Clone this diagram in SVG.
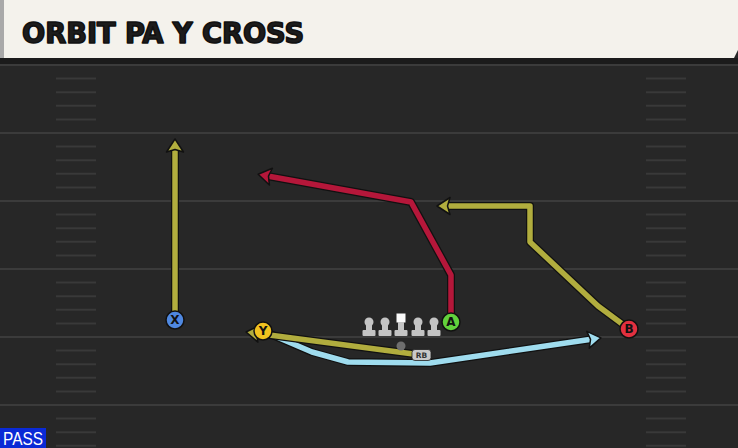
<svg xmlns="http://www.w3.org/2000/svg" width="738" height="448" viewBox="0 0 738 448">
<style>
.yard{stroke:#3b3b3b;stroke-width:2}
.tick{stroke:#393939;stroke-width:2}
.out{fill:none;stroke:#111;stroke-width:8;stroke-linejoin:round;stroke-linecap:round}
.rt{fill:none;stroke-width:5.5;stroke-linejoin:round;stroke-linecap:round}
.yel{stroke:#b1ad3e}
.red{stroke:#b5173a}
.blu{stroke:#9fdcee}
.pl{stroke:#111;stroke-width:1.5}
.lbl{font-family:"DejaVu Sans",sans-serif;font-weight:bold;font-size:12px;fill:#111;text-anchor:middle}
.ol{fill:#c4c4c4}
</style>
<defs>
<marker id="ay" markerUnits="userSpaceOnUse" markerWidth="26" markerHeight="26" viewBox="-13 -13 26 26" refX="0" refY="0" orient="auto" overflow="visible">
<path d="M-5,-8.5 L8,0 L-5,8.5 L-2.5,0 Z" fill="#b1ad3e" stroke="#111" stroke-width="1.5" stroke-linejoin="round"/>
</marker>
<marker id="ar" markerUnits="userSpaceOnUse" markerWidth="26" markerHeight="26" viewBox="-13 -13 26 26" refX="0" refY="0" orient="auto" overflow="visible">
<path d="M-5,-8.5 L8,0 L-5,8.5 L-2.5,0 Z" fill="#b5173a" stroke="#111" stroke-width="1.5" stroke-linejoin="round"/>
</marker>
<marker id="ab" markerUnits="userSpaceOnUse" markerWidth="26" markerHeight="26" viewBox="-13 -13 26 26" refX="0" refY="0" orient="auto" overflow="visible">
<path d="M-5,-8.5 L8,0 L-5,8.5 L-2.5,0 Z" fill="#9fdcee" stroke="#111" stroke-width="1.5" stroke-linejoin="round"/>
</marker>
</defs>

<rect x="0" y="0" width="738" height="448" fill="#272727"/>
<rect x="0" y="58" width="738" height="6" fill="#1b1b1b"/>

<g id="field">
<line class="yard" x1="0" y1="65" x2="738" y2="65"/>
<line class="yard" x1="0" y1="133" x2="738" y2="133"/>
<line class="yard" x1="0" y1="201" x2="738" y2="201"/>
<line class="yard" x1="0" y1="269" x2="738" y2="269"/>
<line class="yard" x1="0" y1="337" x2="738" y2="337"/>
<line class="yard" x1="0" y1="405" x2="738" y2="405"/>
<g id="ticks-left">
<line class="tick" x1="56" y1="78.6" x2="96" y2="78.6"/><line class="tick" x1="56" y1="92.2" x2="96" y2="92.2"/><line class="tick" x1="56" y1="105.8" x2="96" y2="105.8"/><line class="tick" x1="56" y1="119.4" x2="96" y2="119.4"/>
<line class="tick" x1="56" y1="146.6" x2="96" y2="146.6"/><line class="tick" x1="56" y1="160.2" x2="96" y2="160.2"/><line class="tick" x1="56" y1="173.8" x2="96" y2="173.8"/><line class="tick" x1="56" y1="187.4" x2="96" y2="187.4"/>
<line class="tick" x1="56" y1="214.6" x2="96" y2="214.6"/><line class="tick" x1="56" y1="228.2" x2="96" y2="228.2"/><line class="tick" x1="56" y1="241.8" x2="96" y2="241.8"/><line class="tick" x1="56" y1="255.4" x2="96" y2="255.4"/>
<line class="tick" x1="56" y1="282.6" x2="96" y2="282.6"/><line class="tick" x1="56" y1="296.2" x2="96" y2="296.2"/><line class="tick" x1="56" y1="309.8" x2="96" y2="309.8"/><line class="tick" x1="56" y1="323.4" x2="96" y2="323.4"/>
<line class="tick" x1="56" y1="350.6" x2="96" y2="350.6"/><line class="tick" x1="56" y1="364.2" x2="96" y2="364.2"/><line class="tick" x1="56" y1="377.8" x2="96" y2="377.8"/><line class="tick" x1="56" y1="391.4" x2="96" y2="391.4"/>
<line class="tick" x1="56" y1="418.6" x2="96" y2="418.6"/><line class="tick" x1="56" y1="432.2" x2="96" y2="432.2"/><line class="tick" x1="56" y1="445.8" x2="96" y2="445.8"/>
</g>
<g id="ticks-right">
<line class="tick" x1="646" y1="78.6" x2="686" y2="78.6"/><line class="tick" x1="646" y1="92.2" x2="686" y2="92.2"/><line class="tick" x1="646" y1="105.8" x2="686" y2="105.8"/><line class="tick" x1="646" y1="119.4" x2="686" y2="119.4"/>
<line class="tick" x1="646" y1="146.6" x2="686" y2="146.6"/><line class="tick" x1="646" y1="160.2" x2="686" y2="160.2"/><line class="tick" x1="646" y1="173.8" x2="686" y2="173.8"/><line class="tick" x1="646" y1="187.4" x2="686" y2="187.4"/>
<line class="tick" x1="646" y1="214.6" x2="686" y2="214.6"/><line class="tick" x1="646" y1="228.2" x2="686" y2="228.2"/><line class="tick" x1="646" y1="241.8" x2="686" y2="241.8"/><line class="tick" x1="646" y1="255.4" x2="686" y2="255.4"/>
<line class="tick" x1="646" y1="282.6" x2="686" y2="282.6"/><line class="tick" x1="646" y1="296.2" x2="686" y2="296.2"/><line class="tick" x1="646" y1="309.8" x2="686" y2="309.8"/><line class="tick" x1="646" y1="323.4" x2="686" y2="323.4"/>
<line class="tick" x1="646" y1="350.6" x2="686" y2="350.6"/><line class="tick" x1="646" y1="364.2" x2="686" y2="364.2"/><line class="tick" x1="646" y1="377.8" x2="686" y2="377.8"/><line class="tick" x1="646" y1="391.4" x2="686" y2="391.4"/>
<line class="tick" x1="646" y1="418.6" x2="686" y2="418.6"/><line class="tick" x1="646" y1="432.2" x2="686" y2="432.2"/><line class="tick" x1="646" y1="445.8" x2="686" y2="445.8"/>
</g>
</g>

<g id="header">
<polygon points="0,0 738,0 738,50 734,58 0,58" fill="#f4f2ec"/>
<rect x="0" y="0" width="4" height="58" fill="#a9a9a9"/>
<text x="22" y="42.5" font-family="'DejaVu Sans Condensed','DejaVu Sans',sans-serif" font-weight="bold" font-size="29" fill="#1c1c1c" stroke="#111" stroke-width="1.6" stroke-linejoin="round" textLength="282" lengthAdjust="spacingAndGlyphs">ORBIT PA Y CROSS</text>
</g>

<g id="connectors">
<path class="out" d="M175,320 L175,147"/>
<path class="rt yel" d="M175,320 L175,147" marker-end="url(#ay)"/>
<path class="out" d="M451,322 L451,275 L411,202 L266,175.7"/>
<path class="rt red" d="M451,322 L451,275 L411,202 L266,175.7" marker-end="url(#ar)"/>
<path class="out" d="M629,329 L598,306 L530,242 L530,206 L445,206"/>
<path class="rt yel" d="M629,329 L598,306 L530,242 L530,206 L445,206" marker-end="url(#ay)"/>
<path class="out" d="M263,331 L312,352 L348,362 L430,363 L593,339"/>
<path class="rt blu" d="M263,331 L312,352 L348,362 L430,363 L593,339" marker-end="url(#ab)"/>
<path class="out" d="M421,355 L254,333"/>
<path class="rt yel" d="M421,355 L254,333" marker-end="url(#ay)"/>
</g>

<g id="line">
<g id="lt"><circle class="ol" cx="369" cy="322" r="4.5"/><rect class="ol" x="366" y="322" width="6" height="9"/><rect class="ol" x="362.5" y="330" width="13" height="6" rx="1"/></g>
<g id="lg"><circle class="ol" cx="385" cy="322" r="4.5"/><rect class="ol" x="382" y="322" width="6" height="9"/><rect class="ol" x="378.5" y="330" width="13" height="6" rx="1"/></g>
<g id="c"><rect x="396.5" y="313.5" width="9" height="9" fill="#fafafa"/><rect class="ol" x="398" y="322" width="6" height="9"/><rect class="ol" x="394.5" y="330" width="13" height="6" rx="1"/></g>
<g id="rg"><circle class="ol" cx="418" cy="322" r="4.5"/><rect class="ol" x="415" y="322" width="6" height="9"/><rect class="ol" x="411.5" y="330" width="13" height="6" rx="1"/></g>
<g id="rt"><circle class="ol" cx="434" cy="322" r="4.5"/><rect class="ol" x="431" y="322" width="6" height="9"/><rect class="ol" x="427.5" y="330" width="13" height="6" rx="1"/></g>
</g>

<g id="qb"><circle cx="401" cy="346" r="4.5" fill="#6e6e6e"/></g>
<g id="rb"><rect x="412" y="349.5" width="19" height="11" rx="3" fill="#c9c9c9" stroke="#222" stroke-width="0.8"/><text x="421.5" y="358" font-family="'DejaVu Sans',sans-serif" font-weight="bold" font-size="7.5" fill="#333" text-anchor="middle">RB</text></g>

<g id="X"><circle class="pl" cx="175" cy="320" r="9" fill="#4f88e0"/><text class="lbl" x="175" y="324.3">X</text></g>
<g id="Y"><circle class="pl" cx="263" cy="331" r="9" fill="#f1c21f"/><text class="lbl" x="263" y="335.3">Y</text></g>
<g id="A"><circle class="pl" cx="451" cy="322" r="9" fill="#62d13c"/><text class="lbl" x="451" y="326.3">A</text></g>
<g id="B"><circle class="pl" cx="629" cy="329" r="9" fill="#e2303f"/><text class="lbl" x="629" y="333.3">B</text></g>

<g id="pass"><rect x="0" y="428" width="46" height="20" fill="#0a2ad6"/><text x="23" y="445" font-family="'Liberation Sans',Arial,sans-serif" font-size="18" fill="#fff" text-anchor="middle" textLength="40" lengthAdjust="spacingAndGlyphs">PASS</text></g>
</svg>
